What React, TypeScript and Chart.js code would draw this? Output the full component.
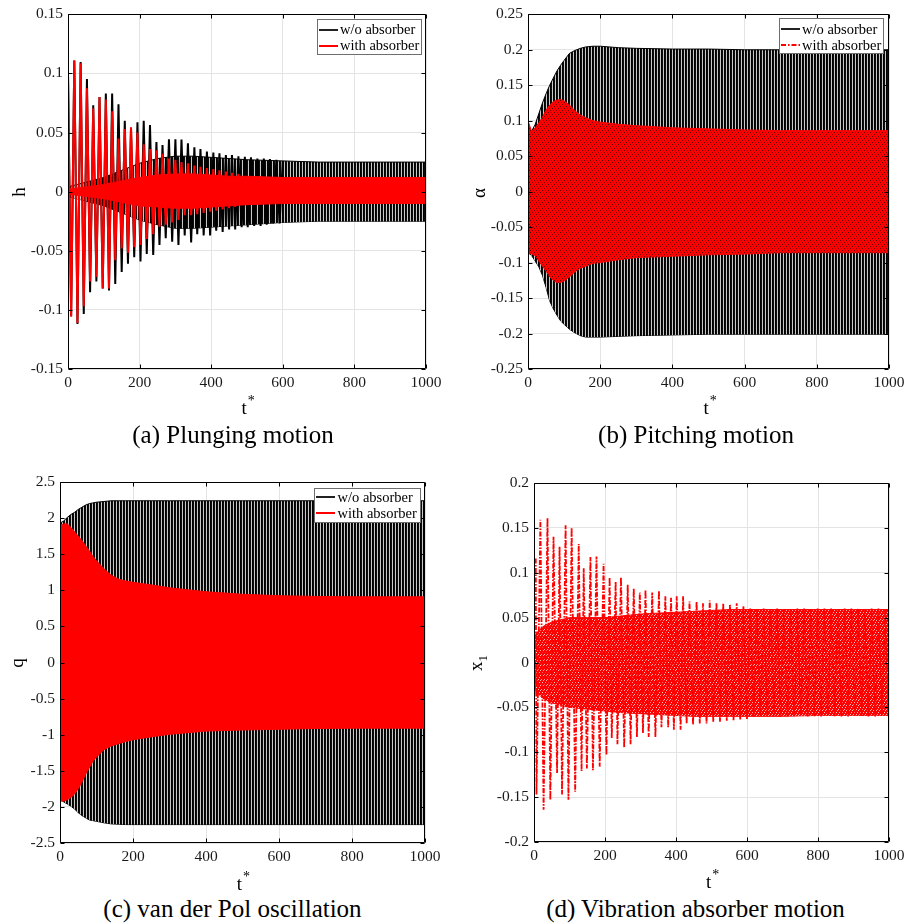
import React, { useEffect, useRef } from "react";
import { Chart, registerables } from "chart.js";

Chart.register(...registerables);

const SERIF = '"Liberation Serif", "Times New Roman", Times, serif';

// ---------------- shared x axis ----------------
const timeTicks = [0, 200, 400, 600, 800, 1000];

// ---------------- (a) plunging motion h ----------------
const hTicks = [-0.15, -0.1, -0.05, 0, 0.05, 0.1, 0.15];
// slow-cycle extremes [t*, h]
const hNoAbsorberPeaks: [number, number][] = [
  [0, 0.1], [8.8, -0.105], [17.6, 0.111], [26.5, -0.112], [35.3, 0.1097], [44, -0.1035],
  [52.9, 0.0953], [61.7, -0.085], [70.5, 0.073], [79.3, -0.076], [88, 0.08], [97, -0.082],
  [105.7, 0.083], [114.5, -0.0836], [123.3, 0.083], [132, -0.078], [141, 0.074], [150, -0.068],
  [158.6, 0.06], [167.5, -0.061], [176, 0.054], [185, -0.0555], [194, 0.0587], [202.5, -0.059],
  [211.5, 0.06], [220, -0.0527], [229, 0.0564], [238, -0.0535], [247, 0.042], [255.5, -0.045],
  [264, 0.0395], [273, -0.0394], [282, 0.0443], [291, -0.0423], [300, 0.0443], [308.5, -0.045],
  [317, 0.044], [326, -0.037], [335, 0.041], [344, -0.043], [353, 0.0375], [361, -0.036],
  [370, 0.036], [379, -0.037], [388, 0.034], [397, -0.037], [406, 0.033], [414, -0.033],
  [423, 0.0325], [432, -0.034], [441, 0.031], [450, -0.032], [458, 0.031], [467, -0.032],
  [476, 0.03], [485, -0.03], [494, 0.0295], [502, -0.03], [511, 0.029], [520, -0.029],
  [529, 0.028], [538, -0.029], [547, 0.028], [555, -0.028], [564, 0.0275], [573, -0.027],
  [582, 0.027], [591, -0.027], [600, 0.026],
];
const hWithAbsorberPeaks: [number, number][] = [
  [0, 0.1], [8.8, -0.1057], [17.6, 0.111], [26.5, -0.111], [35.3, 0.1086], [44, -0.097],
  [52.9, 0.0875], [61.7, -0.076], [70.5, 0.0705], [79.3, -0.072], [88, 0.08], [97, -0.082],
  [105.7, 0.078], [114.5, -0.082], [123.3, 0.068], [132, -0.058], [141, 0.045], [150, -0.048],
  [158.6, 0.053], [167.5, -0.0516], [176, 0.0545], [185, -0.047], [194, 0.05], [202.5, -0.045],
  [211.5, 0.04], [220, -0.04], [229, 0.036], [238, -0.036], [247, 0.035], [255.5, -0.0296],
  [264, 0.032], [273, -0.028], [282, 0.028], [291, -0.026], [300, 0.027], [308.5, -0.024],
  [317, 0.025], [326, -0.02], [335, 0.024], [344, -0.02], [353, 0.022], [361, -0.019],
  [370, 0.021], [379, -0.018], [388, 0.02], [397, -0.017], [406, 0.019], [414, -0.016],
  [423, 0.018], [432, -0.015], [441, 0.017], [450, -0.014], [458, 0.016], [467, -0.013],
  [476, 0.015],
];
// envelopes of the fast limit-cycle oscillation
const hBandTime = [0, 50, 100, 150, 200, 250, 300, 350, 400, 450, 500, 600, 700, 800, 900, 1000];
const hNoAbsorberUpper = [0.004, 0.008, 0.012, 0.018, 0.024, 0.028, 0.03, 0.03, 0.029, 0.028, 0.027, 0.026, 0.025, 0.025, 0.025, 0.025];
const hNoAbsorberLower = [-0.004, -0.008, -0.012, -0.018, -0.024, -0.028, -0.031, -0.031, -0.03, -0.029, -0.028, -0.026, -0.025, -0.025, -0.025, -0.025];
const hWithAbsorberUpper = [0.002, 0.004, 0.006, 0.009, 0.012, 0.014, 0.015, 0.015, 0.014, 0.013, 0.013, 0.012, 0.012, 0.012, 0.012, 0.012];
const hWithAbsorberLower = [-0.002, -0.004, -0.006, -0.009, -0.012, -0.013, -0.014, -0.014, -0.013, -0.012, -0.011, -0.01, -0.01, -0.01, -0.01, -0.01];

// ---------------- (b) pitching motion alpha ----------------
const alphaTicks = [-0.25, -0.2, -0.15, -0.1, -0.05, 0, 0.05, 0.1, 0.15, 0.2, 0.25];
const alphaBandTime = [0, 10, 20, 30, 40, 50, 60, 70, 80, 90, 100, 115, 130, 145, 160, 180, 200, 250, 300, 400, 500, 600, 700, 800, 900, 1000];
const alphaNoAbsorberUpper = [0.085, 0.085, 0.095, 0.11, 0.125, 0.138, 0.15, 0.16, 0.17, 0.178, 0.185, 0.195, 0.199, 0.202, 0.204, 0.205, 0.205, 0.203, 0.202, 0.201, 0.201, 0.2, 0.2, 0.2, 0.2, 0.2];
const alphaNoAbsorberLower = [-0.086, -0.09, -0.098, -0.106, -0.118, -0.135, -0.154, -0.165, -0.174, -0.182, -0.187, -0.194, -0.199, -0.203, -0.205, -0.205, -0.205, -0.204, -0.203, -0.202, -0.201, -0.201, -0.201, -0.201, -0.201, -0.201];
const alphaWithAbsorberUpper = [0.1, 0.085, 0.09, 0.097, 0.105, 0.115, 0.122, 0.127, 0.129, 0.13, 0.128, 0.122, 0.114, 0.108, 0.104, 0.1, 0.098, 0.095, 0.093, 0.09, 0.0885, 0.087, 0.086, 0.086, 0.086, 0.086];
const alphaWithAbsorberLower = [-0.086, -0.088, -0.09, -0.098, -0.105, -0.112, -0.12, -0.125, -0.128, -0.128, -0.126, -0.12, -0.113, -0.108, -0.105, -0.101, -0.1, -0.096, -0.093, -0.091, -0.089, -0.088, -0.086, -0.086, -0.086, -0.086];

// ---------------- (c) van der Pol q ----------------
const qTicks = [-2.5, -2, -1.5, -1, -0.5, 0, 0.5, 1, 1.5, 2, 2.5];
const qBandTime = [0, 10, 20, 30, 40, 50, 60, 70, 80, 90, 100, 120, 140, 160, 180, 200, 250, 300, 400, 500, 600, 700, 800, 900, 1000];
const qNoAbsorberUpper = [1.93, 1.96, 2.01, 2.05, 2.08, 2.12, 2.15, 2.18, 2.2, 2.21, 2.22, 2.23, 2.24, 2.24, 2.24, 2.24, 2.24, 2.24, 2.24, 2.24, 2.24, 2.24, 2.24, 2.24, 2.24];
const qNoAbsorberLower = [-1.9, -1.93, -1.96, -1.99, -2.03, -2.08, -2.12, -2.15, -2.18, -2.19, -2.2, -2.22, -2.235, -2.24, -2.245, -2.245, -2.245, -2.245, -2.245, -2.245, -2.245, -2.245, -2.245, -2.245, -2.245];
const qWithAbsorberUpper = [1.9, 1.92, 1.92, 1.87, 1.81, 1.75, 1.69, 1.62, 1.55, 1.47, 1.41, 1.3, 1.21, 1.155, 1.13, 1.11, 1.075, 1.035, 0.98, 0.945, 0.925, 0.915, 0.91, 0.91, 0.91];
const qWithAbsorberLower = [-1.92, -1.92, -1.9, -1.87, -1.82, -1.75, -1.66, -1.55, -1.46, -1.37, -1.31, -1.21, -1.155, -1.125, -1.095, -1.07, -1.03, -0.995, -0.95, -0.935, -0.925, -0.915, -0.91, -0.91, -0.91];

// ---------------- (d) absorber motion x1 ----------------
const x1Ticks = [-0.2, -0.15, -0.1, -0.05, 0, 0.05, 0.1, 0.15, 0.2];
const x1Peaks: [number, number][] = [
  [5, 0.116], [7, -0.147], [18, 0.159], [27, -0.164], [38, 0.161], [46, -0.153], [55, 0.14],
  [65, -0.123], [72, 0.129], [79, -0.147], [89, 0.153], [97, -0.153], [106, 0.15], [116, -0.144],
  [126, 0.132], [134, -0.121], [140, 0.105], [149, -0.118], [159, 0.1175], [166, -0.12],
  [176, 0.118], [185, -0.116], [196, 0.11], [204, -0.103], [213, 0.095], [219, -0.084],
  [230, 0.09], [235, -0.091], [245, 0.095], [254, -0.0946], [264, 0.0867], [272, -0.091],
  [281, 0.0825], [290, -0.083], [298, 0.078], [307, -0.0786], [314, 0.081], [323, -0.083],
  [333, 0.078], [342, -0.083], [352, 0.08], [359, -0.072], [370, 0.0737], [378, -0.072],
  [386, 0.072], [394, -0.075], [402, 0.0737], [413, -0.075], [420, 0.0737], [430, -0.068],
  [438, 0.068], [448, -0.069], [458, 0.068], [467, -0.068], [476, 0.066], [486, -0.068],
  [495, 0.069], [505, -0.066], [514, 0.066], [524, -0.066], [533, 0.066], [543, -0.065],
  [552, 0.065], [562, -0.065], [571, 0.066], [581, -0.064], [590, 0.063], [600, -0.063],
  [609, 0.06], [619, -0.06], [628, 0.059], [638, -0.06], [647, 0.06], [657, -0.06],
  [666, 0.06], [676, -0.059], [685, 0.06], [695, -0.06], [704, 0.059], [714, -0.06],
  [723, 0.06], [733, -0.06], [742, 0.06], [752, -0.059], [761, 0.06], [771, -0.06],
  [780, 0.059], [790, -0.06], [799, 0.06], [809, -0.06], [818, 0.06], [828, -0.059],
  [837, 0.06], [847, -0.06], [856, 0.059], [866, -0.06], [875, 0.06], [885, -0.06],
  [894, 0.06], [904, -0.059], [913, 0.06], [923, -0.06], [932, 0.059], [942, -0.06],
  [951, 0.06], [961, -0.06], [970, 0.06], [980, -0.059], [989, 0.06], [999, -0.06],
];
const x1BandTime = [0, 25, 50, 100, 150, 200, 250, 300, 350, 400, 450, 500, 550, 600, 700, 800, 900, 1000];
const x1Upper = [0.03, 0.04, 0.045, 0.05, 0.05, 0.05, 0.052, 0.054, 0.055, 0.056, 0.057, 0.058, 0.059, 0.059, 0.059, 0.059, 0.059, 0.059];
const x1Lower = [-0.03, -0.04, -0.045, -0.05, -0.052, -0.054, -0.056, -0.057, -0.058, -0.059, -0.06, -0.06, -0.06, -0.06, -0.06, -0.059, -0.059, -0.059];

// ---------------- helpers ----------------
const RED = "#ff0000";
const BLACK = "#000000";

const pts = (t: number[], v: number[]) => t.map((x, i) => ({ x, y: v[i] }));
const pairPts = (p: [number, number][]) => p.map(([x, y]) => ({ x, y }));

function pattern(rows: string[][]): any {
  const c = document.createElement("canvas");
  c.width = rows[0].length;
  c.height = rows.length;
  const g = c.getContext("2d")!;
  rows.forEach((r, y) =>
    r.forEach((col, x) => {
      g.fillStyle = col;
      g.fillRect(x, y, 1, 1);
    })
  );
  return g.createPattern(c, "repeat") || rows[0][0];
}

function lineDs(data: any[], color: string, width: number, order: number, dash: number[] = []) {
  return {
    data,
    borderColor: color,
    borderWidth: width,
    borderDash: dash,
    borderJoinStyle: "bevel",
    fill: false,
    order,
    pointRadius: 0,
  };
}

function bandDs(upper: any[], lower: any[], fillStyle: any, edge: string, order: number) {
  return [
    { data: upper, borderColor: edge, borderWidth: 1, backgroundColor: fillStyle, fill: "+1", order, pointRadius: 0 },
    { data: lower, borderColor: edge, borderWidth: 1, fill: false, order, pointRadius: 0 },
  ];
}

const blackStripes = () => pattern([[BLACK, "#0c0c0c", "#c8c8c8"]]);
const redDarkSpeckle = () =>
  pattern([
    [RED, RED, "#5a0000"],
    [RED, RED, RED],
    ["#7a0000", RED, RED],
    [RED, RED, RED],
    [RED, "#5a0000", RED],
    [RED, RED, RED],
  ]);
const redLightSpeckle = () =>
  pattern([
    [RED, RED, "#ffb4b4"],
    [RED, RED, RED],
    [RED, "#ffc8c8", RED],
    [RED, RED, RED],
    ["#ffb4b4", RED, RED],
  ]);

type Entry = { label: string; color: string; width: number; dash?: number[] };
type LegendDef = {
  x: number; y: number; w: number; h: number;
  lineX0: number; lineX1: number; textX: number;
  baselines: number[]; entries: Entry[];
};
type PanelDef = {
  id: string;
  left: number; top: number; width: number; height: number;
  yWidth: number; padTop: number; padRight: number; xHeight: number;
  yTicks: number[];
  legend?: LegendDef;
  build: () => any[];
};

const legendEntries = (dashRed?: number[]): Entry[] => [
  { label: "w/o absorber", color: "#222", width: 2 },
  { label: "with absorber", color: RED, width: 2, dash: dashRed },
];

const panels: PanelDef[] = [
  {
    id: "a", left: 0, top: 0, width: 458, height: 400,
    yWidth: 68, padTop: 14, padRight: 32, xHeight: 31,
    yTicks: hTicks,
    legend: { x: 317, y: 19, w: 104, h: 35, lineX0: 319, lineX1: 338, textX: 340, baselines: [34, 50], entries: legendEntries() },
    build: () => [
      lineDs(pairPts(hWithAbsorberPeaks), RED, 2, 0),
      ...bandDs(pts(hBandTime, hWithAbsorberUpper), pts(hBandTime, hWithAbsorberLower), RED, RED, 1),
      lineDs(pairPts(hNoAbsorberPeaks), BLACK, 2, 2),
      ...bandDs(pts(hBandTime, hNoAbsorberUpper), pts(hBandTime, hNoAbsorberLower), blackStripes(), BLACK, 3),
    ],
  },
  {
    id: "b", left: 460, top: 0, width: 456, height: 400,
    yWidth: 68, padTop: 14, padRight: 27, xHeight: 31,
    yTicks: alphaTicks,
    legend: { x: 319, y: 18, w: 104, h: 35, lineX0: 321, lineX1: 340, textX: 342, baselines: [33.5, 49.5], entries: legendEntries([5, 2, 1.5, 2]) },
    build: () => [
      ...bandDs(pts(alphaBandTime, alphaWithAbsorberUpper), pts(alphaBandTime, alphaWithAbsorberLower), redDarkSpeckle(), RED, 0),
      ...bandDs(pts(alphaBandTime, alphaNoAbsorberUpper), pts(alphaBandTime, alphaNoAbsorberLower), blackStripes(), BLACK, 1),
    ],
  },
  {
    id: "c", left: 0, top: 450, width: 458, height: 430,
    yWidth: 60, padTop: 32, padRight: 33, xHeight: 37,
    yTicks: qTicks,
    legend: { x: 314, y: 38, w: 106, h: 34, lineX0: 316, lineX1: 335, textX: 337.5, baselines: [51.5, 67.5], entries: legendEntries() },
    build: () => [
      ...bandDs(pts(qBandTime, qWithAbsorberUpper), pts(qBandTime, qWithAbsorberLower), RED, RED, 0),
      ...bandDs(pts(qBandTime, qNoAbsorberUpper), pts(qBandTime, qNoAbsorberLower), blackStripes(), BLACK, 1),
    ],
  },
  {
    id: "d", left: 460, top: 450, width: 456, height: 430,
    yWidth: 74, padTop: 33, padRight: 27, xHeight: 38,
    yTicks: x1Ticks,
    build: () => [
      lineDs(pairPts(x1Peaks), RED, 1.8, 0, [5, 1.5, 1.5, 1.5]),
      ...bandDs(pts(x1BandTime, x1Upper), pts(x1BandTime, x1Lower), redLightSpeckle(), RED, 1),
    ],
  },
];

const boxPlugin = {
  id: "matlabBox",
  afterDatasetsDraw(chart: any) {
    const { ctx, chartArea: a, scales } = chart;
    const L = Math.round(a.left) + 0.5;
    const R = Math.round(a.right) - 0.5;
    const T = Math.round(a.top) + 0.5;
    const B = Math.round(a.bottom) - 0.5;
    ctx.save();
    ctx.strokeStyle = "#000";
    ctx.lineWidth = 1;
    ctx.setLineDash([]);
    ctx.beginPath();
    ctx.rect(L, T, R - L, B - T);
    ctx.stroke();
    const tl = 4;
    ctx.beginPath();
    scales.x.ticks.forEach((t: any) => {
      const px = Math.round(scales.x.getPixelForValue(t.value)) + 0.5;
      ctx.moveTo(px, B);
      ctx.lineTo(px, B - tl);
      ctx.moveTo(px, T);
      ctx.lineTo(px, T + tl);
    });
    scales.y.ticks.forEach((t: any) => {
      const py = Math.round(scales.y.getPixelForValue(t.value)) + 0.5;
      ctx.moveTo(L, py);
      ctx.lineTo(L + tl, py);
      ctx.moveTo(R, py);
      ctx.lineTo(R - tl, py);
    });
    ctx.stroke();
    ctx.restore();
  },
};

function legendPlugin(L?: LegendDef) {
  return {
    id: "matlabLegend",
    afterDraw(chart: any) {
      if (!L) return;
      const ctx = chart.ctx;
      ctx.save();
      ctx.fillStyle = "#fff";
      ctx.fillRect(L.x, L.y, L.w, L.h);
      ctx.strokeStyle = "#6e6e6e";
      ctx.lineWidth = 1;
      ctx.strokeRect(L.x + 0.5, L.y + 0.5, L.w, L.h);
      L.entries.forEach((e, i) => {
        const b = L.baselines[i];
        const ly = Math.round(b - 4.5);
        ctx.beginPath();
        ctx.setLineDash(e.dash || []);
        ctx.strokeStyle = e.color;
        ctx.lineWidth = e.width;
        ctx.moveTo(L.lineX0, ly);
        ctx.lineTo(L.lineX1, ly);
        ctx.stroke();
        ctx.setLineDash([]);
        ctx.fillStyle = "#000";
        ctx.font = `14.5px ${SERIF}`;
        ctx.textBaseline = "alphabetic";
        ctx.textAlign = "left";
        ctx.fillText(e.label, L.textX, b);
      });
      ctx.restore();
    },
  };
}

function Panel({ p }: { p: PanelDef }) {
  const ref = useRef<HTMLCanvasElement>(null);
  useEffect(() => {
    const canvas = ref.current!;
    const yT = p.yTicks;
    const tickFont = { family: SERIF, size: 15.5 };
    const chart = new Chart(canvas, {
      type: "line",
      data: { datasets: p.build() },
      options: {
        responsive: false,
        animation: false,
        devicePixelRatio: 1,
        events: [],
        layout: { autoPadding: false, padding: { left: 0, top: p.padTop, right: p.padRight, bottom: 0 } },
        elements: { point: { radius: 0 }, line: { tension: 0 } },
        plugins: { legend: { display: false }, tooltip: { enabled: false }, title: { display: false } },
        scales: {
          x: {
            type: "linear",
            min: 0,
            max: 1000,
            afterFit: (s: any) => { s.height = p.xHeight; },
            afterBuildTicks: (s: any) => { s.ticks = timeTicks.map((v) => ({ value: v })); },
            ticks: { font: tickFont, color: "#1a1a1a", padding: 5, autoSkip: false, maxRotation: 0, minRotation: 0, callback: (v: any) => String(v) },
            grid: { color: "#e4e4e4", lineWidth: 1, drawTicks: false },
            border: { display: false },
          },
          y: {
            type: "linear",
            min: yT[0],
            max: yT[yT.length - 1],
            afterFit: (s: any) => { s.width = p.yWidth; },
            afterBuildTicks: (s: any) => { s.ticks = yT.map((v) => ({ value: v })); },
            ticks: { font: tickFont, color: "#1a1a1a", padding: 5, autoSkip: false, callback: (v: any) => String(v) },
            grid: { color: "#e4e4e4", lineWidth: 1, drawTicks: false },
            border: { display: false },
          },
        },
      } as any,
      plugins: [boxPlugin, legendPlugin(p.legend)],
    } as any);
    return () => chart.destroy();
  }, []);
  return (
    <canvas
      ref={ref}
      width={p.width}
      height={p.height}
      style={{ position: "absolute", left: p.left, top: p.top, width: p.width, height: p.height }}
    />
  );
}

const captionStyle = (cx: number, top: number): React.CSSProperties => ({
  position: "absolute",
  left: cx - 200,
  width: 400,
  top,
  textAlign: "center",
  fontSize: 25,
  lineHeight: "25px",
  whiteSpace: "nowrap",
});

const xTitleStyle = (left: number, top: number): React.CSSProperties => ({
  position: "absolute",
  left,
  top,
  fontSize: 19,
  lineHeight: "19px",
  whiteSpace: "nowrap",
});

const yTitleStyle = (cx: number, cy: number): React.CSSProperties => ({
  position: "absolute",
  left: cx,
  top: cy,
  width: 80,
  height: 20,
  lineHeight: "20px",
  fontSize: 19,
  textAlign: "center",
  whiteSpace: "nowrap",
  transform: "translate(-50%, -50%) rotate(-90deg)",
});

const star: React.CSSProperties = { position: "relative", top: -9, fontSize: 14, marginLeft: 1 };

export default function App() {
  return (
    <div
      style={{
        position: "absolute",
        left: 0,
        top: 0,
        width: 916,
        height: 924,
        background: "#fff",
        fontFamily: SERIF,
        color: "#000",
        overflow: "hidden",
      }}
    >
      {panels.map((p) => (
        <Panel key={p.id} p={p} />
      ))}

      <div style={yTitleStyle(18.6, 192)}>h</div>
      <div style={yTitleStyle(478.6, 192.5)}>α</div>
      <div style={yTitleStyle(16.6, 663)}>q</div>
      <div style={yTitleStyle(475.6, 663)}>
        x<sub style={{ fontSize: 13 }}>1</sub>
      </div>

      <div style={xTitleStyle(241.5, 398)}>t<span style={star}>*</span></div>
      <div style={xTitleStyle(703.5, 398)}>t<span style={star}>*</span></div>
      <div style={xTitleStyle(236.7, 874)}>t<span style={star}>*</span></div>
      <div style={xTitleStyle(706, 872)}>t<span style={star}>*</span></div>

      <div style={captionStyle(233, 422)}>(a) Plunging motion</div>
      <div style={captionStyle(696, 422)}>(b) Pitching motion</div>
      <div style={captionStyle(232.5, 896)}>(c) van der Pol oscillation</div>
      <div style={captionStyle(695.5, 896)}>(d) Vibration absorber motion</div>
    </div>
  );
}
